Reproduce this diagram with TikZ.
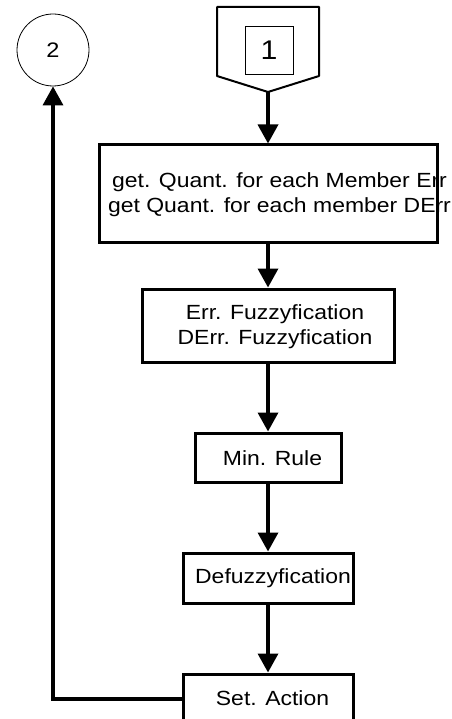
\documentclass[tikz,border=0pt]{standalone}
\usepackage{fontspec}
\setmainfont{Liberation Sans}[FakeStretch=1.12]
\usetikzlibrary{arrows.meta}

\begin{document}
\begin{tikzpicture}[
    x=1pt, y=-1pt,
    box/.style={draw, rectangle, line width=3pt, inner sep=0pt},
    txt/.style={anchor=base, inner sep=0pt, align=center, font=\fontsize{20.5}{24.5}\selectfont},
    flow/.style={line width=3.5pt, -{Triangle[length=19pt, width=20pt]}},
    >=latex
]
\useasboundingbox (0,0) rectangle (451,719);

% Connectors to other pages
\node[draw, circle, line width=0.8pt, minimum size=72pt, font=\fontsize{21}{24}\selectfont] (two) at (53,50) {2};
\draw[line width=2pt, line join=round] (217,7) -- (319,7) -- (319,76) -- (268,92) -- (217,76) -- cycle;
\coordinate (pin) at (268,92);
\node[draw, rectangle, line width=0.8pt, minimum size=48pt, font=\fontsize{27}{30}\selectfont] (one) at (269,50) {1};

% Process boxes
\node[box, minimum width=338pt, minimum height=97pt] (quant) at (268,193.5) {};
\node[box, minimum width=252pt, minimum height=73pt] (fuzz) at (268,325.5) {};
\node[box, minimum width=146pt, minimum height=49pt] (rule) at (268,457.5) {};
\node[box, minimum width=170pt, minimum height=50pt] (defuzz) at (268,578) {};
\node[box, minimum width=170pt, minimum height=50pt] (action) at (268,699) {};

% Box texts (base = last line)
\node[txt] (quanttxt) at (279.5,212) {get. Quant. for each Member Err\\get Quant. for each member DErr};
\node[txt] (fuzztxt) at (275,344) {Err. Fuzzyfication\\DErr. Fuzzyfication};
\node[txt] (ruletxt) at (272.5,465) {Min. Rule};
\node[txt] (defuzztxt) at (273,583) {Defuzzyfication};
\node[txt] (actiontxt) at (272.5,705) {Set. Action};

% Main flow
\draw[flow] (pin) -- (quant.north);
\draw[flow] (quant.south) -- (fuzz.north);
\draw[flow] (fuzz.south) -- (rule.north);
\draw[flow] (rule.south) -- (defuzz.north);
\draw[flow] (defuzz.south) -- (action.north);

% Feedback to connector 2
\draw[flow] (action.west) -| (two.south);

\end{tikzpicture}
\end{document}
